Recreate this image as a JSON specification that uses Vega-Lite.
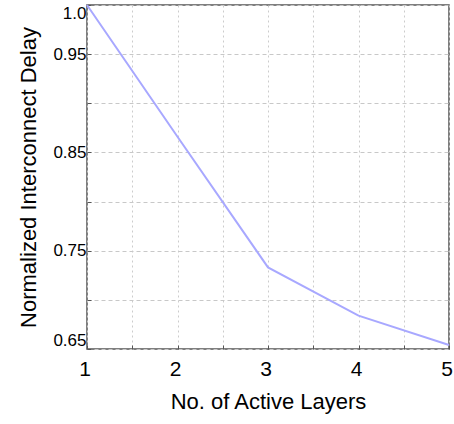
{
  "$schema": "https://vega.github.io/schema/vega-lite/v6.json",
  "width": 362,
  "height": 344,
  "autosize": {"type": "none"},
  "padding": {"left": 87, "top": 5, "right": 5, "bottom": 75},
  "background": "white",
  "config": {
    "font": "Liberation Sans",
    "view": {"stroke": "#555555", "strokeWidth": 1.5}
  },
  "data": {
    "values": [
      {"layers": 1, "delay": 1.0},
      {"layers": 2, "delay": 0.866},
      {"layers": 3, "delay": 0.733},
      {"layers": 4, "delay": 0.684},
      {"layers": 5, "delay": 0.654}
    ]
  },
  "mark": {"type": "line", "color": "#a8a8ff", "strokeWidth": 2},
  "encoding": {
    "x": {
      "field": "layers",
      "type": "quantitative",
      "scale": {"domain": [1, 5], "nice": false, "zero": false},
      "axis": {
        "title": "No. of Active Layers",
        "titleFontSize": 22,
        "titleFontWeight": "normal",
        "titleColor": "black",
        "titlePadding": 12,
        "values": [1, 1.5, 2, 2.5, 3, 3.5, 4, 4.5, 5],
        "labelExpr": "datum.value % 1 == 0 ? format(datum.value, 'd') : ''",
        "labelFontSize": 21,
        "labelColor": "black",
        "labelPadding": 13,
        "labelOffset": -2.5,
        "labelFlush": false,
        "domain": false,
        "tickSize": -4,
        "tickColor": "#555555",
        "grid": true,
        "gridColor": "#cccccc",
        "gridDash": [2, 3],
        "gridWidth": 1
      }
    },
    "y": {
      "field": "delay",
      "type": "quantitative",
      "scale": {"domain": [0.65, 1.0], "nice": false, "zero": false},
      "axis": {
        "title": "Normalized Interconnect Delay",
        "titleFontSize": 22,
        "titleFontWeight": "normal",
        "titleColor": "black",
        "titlePadding": 12,
        "values": [0.65, 0.7, 0.75, 0.8, 0.85, 0.9, 0.95, 1.0],
        "labelExpr": "abs(datum.value - 1) < 0.001 ? '1.0' : (round(datum.value * 20) % 2 == 1 ? format(datum.value, '.2f') : '')",
        "labelFontSize": 17,
        "labelColor": "black",
        "labelPadding": 5,
        "labelFlush": true,
        "domain": false,
        "tickSize": -4,
        "tickColor": "#555555",
        "grid": true,
        "gridColor": "#c8c8c8",
        "gridDash": [4, 3],
        "gridWidth": 1
      }
    }
  }
}
